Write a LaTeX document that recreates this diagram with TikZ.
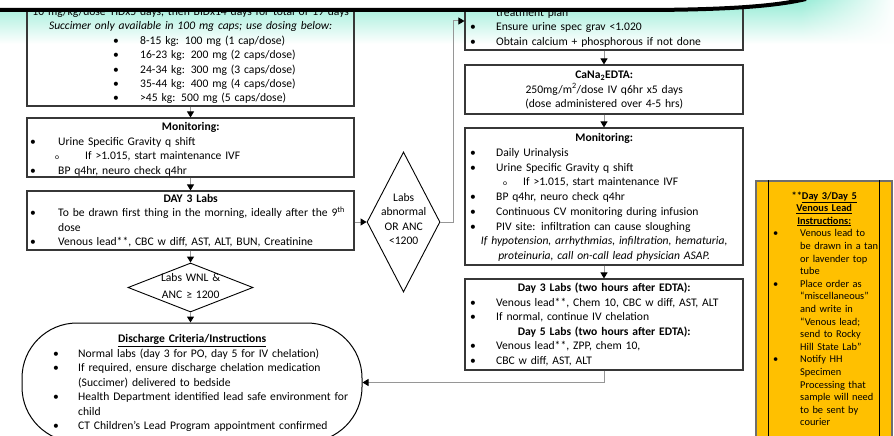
\documentclass[tikz,border=0pt]{standalone}
\usepackage{fontspec}
\setmainfont{Carlito}
\usetikzlibrary{shapes.geometric,arrows.meta,fadings}

\definecolor{headteal}{RGB}{150,236,214}
\definecolor{notegold}{RGB}{255,192,0}
\definecolor{framegray}{RGB}{55,55,55}
\definecolor{linkgray}{RGB}{150,150,150}
\definecolor{noteframe}{RGB}{110,110,110}

\tikzfading[name=fadeinright, left color=transparent!100, right color=transparent!0]

% one centred line, one bulleted line, one sub-bulleted line, one continuation line
\newcommand\ctr[1]{\hbox to\hsize{\hss#1\hss}\par}
\newcommand\bl[3]{\hbox{\rlap{\kern#1\textbullet}\kern#2\relax#3}\par}
\newcommand\sbl[3]{\hbox{\rlap{\kern#1{\fontsize{7.5}{7.5}\selectfont o}}\kern#2\relax#3}\par}
\newcommand\cont[2]{\hbox{\kern#1\relax#2}\par}

\tikzset{
  box/.style={draw=framegray, line width=1.1pt, inner sep=0pt},
  txt/.style={inner sep=0pt, anchor=base west, font=\fontsize{11.6}{#1}\selectfont},
  txt/.default=14.5,
  decision/.style={diamond, draw=black, line width=0.9pt, inner sep=0pt},
  conn/.style={draw=linkgray, line width=1pt, -{Triangle[length=6pt,width=7pt,color=black]}},
}

\begin{document}
\begin{tikzpicture}[x=1pt,y=-1pt]
\useasboundingbox (0,0) rectangle (894,436);

% header band
\shade[top color=headteal, middle color=headteal, bottom color=white] (0,0) rectangle (894,44);
\fill[white, path fading=fadeinright] (800,-1) rectangle (895,46);

% ---------------- left column ----------------
\node[box, minimum width=327pt, minimum height=126pt] (lb1) at (190.5,43) {};
\node[txt=14.4, text width=327pt] (lb1t) at (27,15.6) {%
  \ctr{10 mg/kg/dose TIDx5 days, then BIDx14 days for total of 19 days}
  \ctr{\itshape Succimer only available in 100 mg caps; use dosing below:}
  \bl{86pt}{113pt}{8-15 kg: 100 mg (1 cap/dose)}
  \bl{86pt}{113pt}{16-23 kg: 200 mg (2 caps/dose)}
  \bl{86pt}{113pt}{24-34 kg: 300 mg (3 caps/dose)}
  \bl{86pt}{113pt}{35-44 kg: 400 mg (4 caps/dose)}
  \bl{86pt}{113pt}{>45 kg: 500 mg (5 caps/dose)}};

\node[box, minimum width=327pt, minimum height=59pt] (lm1) at (190.5,147.5) {};
\node[txt, text width=327pt] (lm1t) at (27,130.5) {%
  \ctr{\bfseries Monitoring:}
  \bl{3pt}{31pt}{Urine Specific Gravity q shift}
  \sbl{28pt}{58pt}{If >1.015, start maintenance IVF}
  \bl{3pt}{31pt}{BP q4hr, neuro check q4hr}};

\node[box, minimum width=327pt, minimum height=59pt] (ld3) at (190.5,220.5) {};
\node[txt=14.4, text width=327pt] (ld3t) at (27,202.5) {%
  \ctr{\bfseries DAY 3 Labs}
  \bl{3pt}{31pt}{To be drawn first thing in the morning, ideally after the 9\textsuperscript{th}}
  \cont{31pt}{dose}
  \bl{3pt}{31pt}{Venous lead**, CBC w diff, AST, ALT, BUN, Creatinine}};

\node[decision, minimum width=125pt, minimum height=49pt] (wnl) at (190.5,287.5) {};
\node[txt=17, text width=125pt] (wnlt) at (128,281.5) {%
  \ctr{Labs WNL \&}
  \ctr{ANC ≥ 1200}};

\node[draw=black, line width=1pt, rounded corners=55pt, minimum width=340pt, minimum height=119pt, inner sep=0pt] (dis) at (192,382.5) {};
\node[txt, text width=340pt] (dist) at (22,342.5) {%
  \ctr{\bfseries\underline{Discharge Criteria/Instructions}}
  \bl{31pt}{56pt}{Normal labs (day 3 for PO, day 5 for IV chelation)}
  \bl{31pt}{56pt}{If required, ensure discharge chelation medication}
  \cont{56pt}{(Succimer) delivered to bedside}
  \bl{31pt}{56pt}{Health Department identified lead safe environment for}
  \cont{56pt}{child}
  \bl{31pt}{56pt}{CT Children’s Lead Program appointment confirmed}};

\node[decision, minimum width=73pt, minimum height=140pt] (abn) at (403.5,222) {};
\node[txt=14.3, text width=73pt] (abnt) at (367,201.5) {%
  \ctr{Labs}
  \ctr{abnormal}
  \ctr{OR ANC}
  \ctr{<1200}};

% ---------------- right column ----------------
\node[box, minimum width=278pt, minimum height=70pt] (rb1) at (604,15) {};
\node[txt, text width=278pt] (rb1t) at (465,16.5) {%
  \cont{31pt}{treatment plan}
  \bl{5pt}{31pt}{Ensure urine spec grav <1.020}
  \bl{5pt}{31pt}{Obtain calcium + phosphorous if not done}};

\node[box, minimum width=278pt, minimum height=49pt] (edta) at (604,89.5) {};
\node[txt, text width=278pt] (edtat) at (465,78.5) {%
  \ctr{\bfseries CaNa\textsubscript{2}EDTA:}
  \ctr{250mg/m\textsuperscript{2}/dose IV q6hr x5 days}
  \ctr{(dose administered over 4-5 hrs)}};

\node[box, minimum width=278pt, minimum height=137pt] (rm) at (604,196.5) {};
\node[txt=14.75, text width=278pt] (rmt) at (465,141.5) {%
  \ctr{\bfseries Monitoring:}
  \bl{5pt}{31pt}{Daily Urinalysis}
  \bl{5pt}{31pt}{Urine Specific Gravity q shift}
  \sbl{38pt}{58pt}{If >1.015, start maintenance IVF}
  \bl{5pt}{31pt}{BP q4hr, neuro check q4hr}
  \bl{5pt}{31pt}{Continuous CV monitoring during infusion}
  \bl{5pt}{31pt}{PIV site: infiltration can cause sloughing}
  \ctr{\itshape If hypotension, arrhythmias, infiltration, hematuria,}
  \ctr{\itshape proteinuria, call on-call lead physician ASAP.}};

\node[box, minimum width=278pt, minimum height=91pt] (rd3) at (604,324.5) {};
\node[txt=14.6, text width=278pt] (rd3t) at (465,291.5) {%
  \ctr{\bfseries Day 3 Labs (two hours after EDTA):}
  \bl{5pt}{31pt}{Venous lead**, Chem 10, CBC w diff, AST, ALT}
  \bl{5pt}{31pt}{If normal, continue IV chelation}
  \ctr{\bfseries Day 5 Labs (two hours after EDTA):}
  \bl{5pt}{31pt}{Venous lead**, ZPP, chem 10,}
  \bl{5pt}{31pt}{CBC w diff, AST, ALT}};

% ---------------- venous lead note ----------------
\node[draw=noteframe, line width=2pt, fill=notegold, minimum width=136pt, minimum height=260pt, inner sep=0pt] (note) at (824,311) {};
\draw[black, line width=0.8pt] ([xshift=13pt]note.north west) -- ([xshift=13pt]note.south west);
\draw[black, line width=0.8pt] ([xshift=-14pt]note.north east) -- ([xshift=-14pt]note.south east);
\node[inner sep=0pt, anchor=base west, text width=136pt, font=\fontsize{10.4}{12.6}\selectfont] (notet) at (756,199) {%
  \ctr{\bfseries **\underline{Day 3/Day 5}}
  \ctr{\bfseries\underline{Venous Lead}}
  \ctr{\bfseries\underline{Instructions:}}
  \bl{17pt}{44pt}{Venous lead to}
  \cont{44pt}{be drawn in a tan}
  \cont{44pt}{or lavender top}
  \cont{44pt}{tube}
  \bl{17pt}{44pt}{Place order as}
  \cont{44pt}{“miscellaneous”}
  \cont{44pt}{and write in}
  \cont{44pt}{“Venous lead;}
  \cont{44pt}{send to Rocky}
  \cont{44pt}{Hill State Lab”}
  \bl{17pt}{44pt}{Notify HH}
  \cont{44pt}{Specimen}
  \cont{44pt}{Processing that}
  \cont{44pt}{sample will need}
  \cont{44pt}{to be sent by}
  \cont{44pt}{courier}};

% ---------------- connectors ----------------
\draw[conn] (lb1.south) -- (lm1.north);
\draw[conn] (lm1.south) -- (ld3.north);
\draw[conn] (ld3.south) -- (wnl.north);
\draw[conn] (wnl.south) -- (wnl.south |- dis.north);
\draw[conn] (ld3.east |- abn.west) -- (abn.west);
\draw[conn] (abn.east) -- ++(13,0) |- ([yshift=-6pt]rb1.west);
\draw[conn] (rb1.south) -- (edta.north);
\draw[conn] (edta.south) -- (rm.north);
\draw[conn] (rm.south) -- (rd3.north);
\draw[conn] (rd3.south) |- (dis.east);

% white cap and black sweep across the top
\fill[white] (-1,-1) -- (-1,10) -- (650,10) .. controls (740,9.5) and (780,5) .. (806,-1) -- cycle;
\draw[line width=4pt] (-2,10) -- (650,10) .. controls (740,9.5) and (780,5) .. (806,-1);
\end{tikzpicture}
\end{document}
